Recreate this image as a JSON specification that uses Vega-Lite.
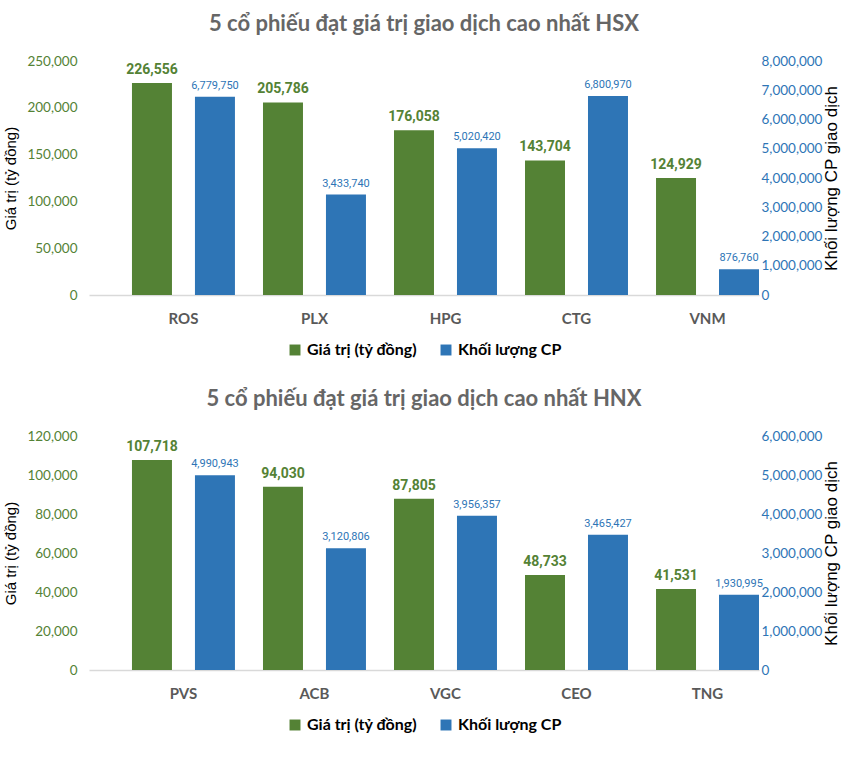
{
  "$schema": "https://vega.github.io/schema/vega-lite/v6.json",
  "padding": {"left": 3, "top": 13, "right": 2, "bottom": 0},
  "background": "white",
  "datasets": {
    "hsx": [
      {"ma": "ROS", "loai": "Giá trị (tỷ đồng)", "v": 226556},
      {"ma": "PLX", "loai": "Giá trị (tỷ đồng)", "v": 205786},
      {"ma": "HPG", "loai": "Giá trị (tỷ đồng)", "v": 176058},
      {"ma": "CTG", "loai": "Giá trị (tỷ đồng)", "v": 143704},
      {"ma": "VNM", "loai": "Giá trị (tỷ đồng)", "v": 124929},
      {"ma": "ROS", "loai": "Khối lượng CP", "v": 6779750},
      {"ma": "PLX", "loai": "Khối lượng CP", "v": 3433740},
      {"ma": "HPG", "loai": "Khối lượng CP", "v": 5020420},
      {"ma": "CTG", "loai": "Khối lượng CP", "v": 6800970},
      {"ma": "VNM", "loai": "Khối lượng CP", "v": 876760}
    ],
    "hnx": [
      {"ma": "PVS", "loai": "Giá trị (tỷ đồng)", "v": 107718},
      {"ma": "ACB", "loai": "Giá trị (tỷ đồng)", "v": 94030},
      {"ma": "VGC", "loai": "Giá trị (tỷ đồng)", "v": 87805},
      {"ma": "CEO", "loai": "Giá trị (tỷ đồng)", "v": 48733},
      {"ma": "TNG", "loai": "Giá trị (tỷ đồng)", "v": 41531},
      {"ma": "PVS", "loai": "Khối lượng CP", "v": 4990943},
      {"ma": "ACB", "loai": "Khối lượng CP", "v": 3120806},
      {"ma": "VGC", "loai": "Khối lượng CP", "v": 3956357},
      {"ma": "CEO", "loai": "Khối lượng CP", "v": 3465427},
      {"ma": "TNG", "loai": "Khối lượng CP", "v": 1930995}
    ]
  },
  "vconcat": [
    {
      "title": {"text": "5 cổ phiếu đạt giá trị giao dịch cao nhất HSX"},
      "width": 670,
      "height": 234,
      "data": {"name": "hsx"},
      "encoding": {
        "x": {"field": "ma", "type": "nominal", "sort": null, "title": null,
          "scale": {"paddingInner": 0.214, "paddingOuter": 0.164, "align": 1}},
        "xOffset": {"field": "loai", "type": "nominal", "scale": {"domain": ["Giá trị (tỷ đồng)", "Khối lượng CP"], "paddingInner": 0.365, "paddingOuter": 0}},
        "color": {"field": "loai", "type": "nominal", "scale": {"domain": ["Giá trị (tỷ đồng)", "Khối lượng CP"], "range": ["#548235", "#2E75B6"]}, "legend": {"title": null}}
      },
      "layer": [
        {
          "transform": [{"filter": "datum.loai === 'Giá trị (tỷ đồng)'"}],
          "encoding": {"y": {"field": "v", "type": "quantitative", "scale": {"domain": [0, 250000]},
            "axis": {"orient": "left", "title": "Giá trị (tỷ đồng)", "values": [0, 50000, 100000, 150000, 200000, 250000], "format": ",.0f", "labelColor": "#548235", "labelPadding": 12, "titlePadding": 8}}},
          "layer": [
            {"mark": {"type": "bar"}},
            {"mark": {"type": "text", "baseline": "bottom", "dy": -6, "fontSize": 14, "fontWeight": "bold", "font": "Roboto"},
              "encoding": {"text": {"field": "v", "format": ",.0f"}}}
          ]
        },
        {
          "transform": [{"filter": "datum.loai === 'Khối lượng CP'"}],
          "encoding": {"y": {"field": "v", "type": "quantitative", "scale": {"domain": [0, 8000000]},
            "axis": {"orient": "right", "title": "Khối lượng CP giao dịch", "values": [0, 1000000, 2000000, 3000000, 4000000, 5000000, 6000000, 7000000, 8000000], "format": ",.0f", "labelColor": "#2E75B6", "labelPadding": 2, "titleAngle": 270, "titleFontSize": 17, "titlePadding": 19}}},
          "layer": [
            {"mark": {"type": "bar"}},
            {"mark": {"type": "text", "baseline": "bottom", "dy": -6, "fontSize": 11, "font": "Roboto"},
              "encoding": {"text": {"field": "v", "format": ",.0f"}}}
          ]
        }
      ],
      "resolve": {"scale": {"y": "independent"}}
    },
    {
      "title": {"text": "5 cổ phiếu đạt giá trị giao dịch cao nhất HNX"},
      "width": 670,
      "height": 234,
      "data": {"name": "hnx"},
      "encoding": {
        "x": {"field": "ma", "type": "nominal", "sort": null, "title": null,
          "scale": {"paddingInner": 0.214, "paddingOuter": 0.164, "align": 1}},
        "xOffset": {"field": "loai", "type": "nominal", "scale": {"domain": ["Giá trị (tỷ đồng)", "Khối lượng CP"], "paddingInner": 0.365, "paddingOuter": 0}},
        "color": {"field": "loai", "type": "nominal", "scale": {"domain": ["Giá trị (tỷ đồng)", "Khối lượng CP"], "range": ["#548235", "#2E75B6"]}, "legend": {"title": null}}
      },
      "layer": [
        {
          "transform": [{"filter": "datum.loai === 'Giá trị (tỷ đồng)'"}],
          "encoding": {"y": {"field": "v", "type": "quantitative", "scale": {"domain": [0, 120000]},
            "axis": {"orient": "left", "title": "Giá trị (tỷ đồng)", "values": [0, 20000, 40000, 60000, 80000, 100000, 120000], "format": ",.0f", "labelColor": "#548235", "labelPadding": 12, "titlePadding": 8}}},
          "layer": [
            {"mark": {"type": "bar"}},
            {"mark": {"type": "text", "baseline": "bottom", "dy": -6, "fontSize": 14, "fontWeight": "bold", "font": "Roboto"},
              "encoding": {"text": {"field": "v", "format": ",.0f"}}}
          ]
        },
        {
          "transform": [{"filter": "datum.loai === 'Khối lượng CP'"}],
          "encoding": {"y": {"field": "v", "type": "quantitative", "scale": {"domain": [0, 6000000]},
            "axis": {"orient": "right", "title": "Khối lượng CP giao dịch", "values": [0, 1000000, 2000000, 3000000, 4000000, 5000000, 6000000], "format": ",.0f", "labelColor": "#2E75B6", "labelPadding": 2, "titleAngle": 270, "titleFontSize": 17, "titlePadding": 19}}},
          "layer": [
            {"mark": {"type": "bar"}},
            {"mark": {"type": "text", "baseline": "bottom", "dy": -6, "fontSize": 11, "font": "Roboto"},
              "encoding": {"text": {"field": "v", "format": ",.0f"}}}
          ]
        }
      ],
      "resolve": {"scale": {"y": "independent"}}
    }
  ],
  "resolve": {"scale": {"color": "independent"}, "legend": {"color": "independent"}},
  "spacing": 30,
  "config": {
    "view": {"stroke": null},
    "font": "Lato",
    "title": {"fontSize": 22, "fontWeight": "bold", "color": "#666666", "font": "Lato", "anchor": "middle", "offset": 18},
    "axis": {"grid": false, "ticks": false, "labelFontSize": 13.5, "labelFont": "Lato", "titleFont": "Liberation Sans", "titleFontSize": 15, "titleFontWeight": "normal", "titleColor": "#000000"},
    "axisY": {"domain": false},
    "axisX": {"domainColor": "#D9D9D9", "domainWidth": 1.5, "labelColor": "#595959", "labelFontWeight": "bold", "labelFontSize": 15, "labelPadding": 16, "labelAngle": 0},
    "legend": {"orient": "bottom", "direction": "horizontal", "labelFontSize": 16, "labelFontWeight": "bold", "labelColor": "#000000", "labelFont": "Lato", "symbolType": "square", "symbolSize": 120, "symbolStrokeWidth": 0, "columnPadding": 20, "offset": 16, "layout": {"bottom": {"anchor": "middle"}}}
  }
}
